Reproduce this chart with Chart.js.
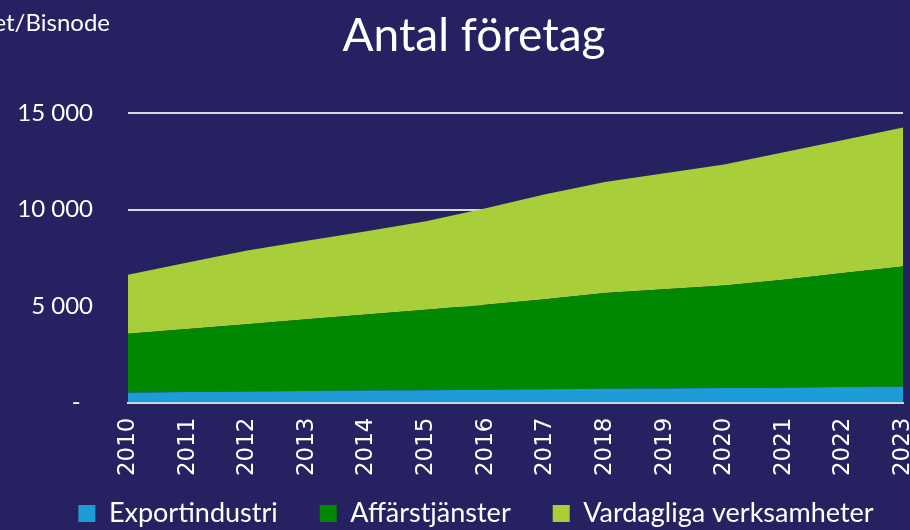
<!DOCTYPE html>
<html lang="sv">
<head>
<meta charset="utf-8">
<title>Antal företag</title>
<script src="https://cdn.jsdelivr.net/npm/chart.js@4.4.1/dist/chart.umd.min.js"></script>
<style>
    html, body {
        margin: 0;
        padding: 0;
        background: #262262;
        overflow: hidden;
    }
    #ram {
        position: relative;
        width: 910px;
        height: 530px;
    }
    #kalla {
        position: absolute;
        left: -290px;
        top: 10px;
        width: 400px;
        text-align: right;
        font-family: Lato, sans-serif;
        font-size: 24px;
        line-height: 24px;
        color: #ffffff;
        white-space: nowrap;
    }
    #rubrik {
        position: absolute;
        left: 274px;
        top: 11px;
        width: 400px;
        text-align: center;
        font-family: Lato, sans-serif;
        font-size: 46px;
        line-height: 46px;
        color: #ffffff;
        white-space: nowrap;
    }
</style>
</head>
<body>
<div id="ram">
    <canvas id="graf"></canvas>
    <div id="kalla">Källa: Bolagsverket/Bisnode</div>
    <div id="rubrik">Antal företag</div>
</div>
<script>
    var ar = ['2010', '2011', '2012', '2013', '2014', '2015', '2016', '2017', '2018', '2019', '2020', '2021', '2022', '2023'];

    var exportindustri = [510, 540, 570, 600, 620, 640, 660, 690, 710, 730, 750, 770, 800, 820];
    var affarstjanster = [3050, 3270, 3485, 3710, 3940, 4170, 4400, 4660, 4960, 5140, 5315, 5590, 5910, 6230];
    var vardagliga = [3060, 3450, 3825, 4075, 4310, 4580, 5010, 5440, 5760, 6010, 6265, 6610, 6890, 7200];

    var yTicks = [0, 5000, 10000, 15000];

    var farger = {
        text: '#ffffff',
        rutnat: '#d9d9d9',
        export: '#1e9cd8',
        affar: '#008800',
        vardag: '#a8ce3a'
    };

    function formateraTal(v) {
        if (v === 0) {
            return '-  ';
        }
        return String(v).replace(/\B(?=(\d{3})+(?!\d))/g, ' ');
    }

    function serie(namn, data, farg, fyll) {
        return {
            label: namn,
            data: data,
            backgroundColor: farg,
            borderColor: farg,
            borderWidth: 0,
            pointRadius: 0,
            pointHoverRadius: 0,
            tension: 0,
            fill: fyll
        };
    }

    // legenden har stort avstånd mellan posterna men ska ligga tätt under årtalen
    var flyttaLegend = {
        id: 'flyttaLegend',
        afterLayout: function (chart) {
            var l = chart.legend;
            l.left += 16;
            l.right += 16;
            l.top -= 24.5;
        }
    };

    var ctx = document.getElementById('graf').getContext('2d');

    new Chart(ctx, {
        type: 'line',
        data: {
            labels: ar,
            datasets: [
                serie('Exportindustri', exportindustri, farger.export, 'origin'),
                serie('Affärstjänster', affarstjanster, farger.affar, '-1'),
                serie('Vardagliga verksamheter', vardagliga, farger.vardag, '-1')
            ]
        },
        plugins: [flyttaLegend],
        options: {
            responsive: true,
            maintainAspectRatio: false,
            animation: false,
            layout: {
                autoPadding: false,
                padding: { top: 113, left: 17, right: 7, bottom: 0 }
            },
            plugins: {
                title: { display: false },
                tooltip: { enabled: false },
                legend: {
                    display: true,
                    position: 'bottom',
                    maxHeight: 47.5,
                    labels: {
                        color: farger.text,
                        boxWidth: 17,
                        boxHeight: 17,
                        padding: 42,
                        font: { family: 'Lato', size: 27 }
                    }
                }
            },
            scales: {
                x: {
                    grid: { display: false, drawTicks: false },
                    border: { display: true, color: farger.rutnat, width: 2 },
                    ticks: {
                        color: farger.text,
                        autoSkip: false,
                        maxRotation: 90,
                        minRotation: 90,
                        padding: 15,
                        font: { family: 'DejaVu Sans', size: 23 }
                    },
                    afterFit: function (axel) {
                        // sista årtalet får klippas vid kanten som i originalet
                        axel.height = 80;
                        axel.paddingLeft = 0;
                        axel.paddingRight = 0;
                    }
                },
                y: {
                    stacked: true,
                    min: 0,
                    max: 15000,
                    afterBuildTicks: function (axel) {
                        axel.ticks = yTicks.map(function (v) { return { value: v }; });
                    },
                    afterFit: function (axel) {
                        axel.width = 111;
                    },
                    grid: {
                        color: farger.rutnat,
                        lineWidth: 2,
                        drawTicks: false
                    },
                    border: { display: false },
                    ticks: {
                        color: farger.text,
                        padding: 35,
                        font: { family: 'Lato', size: 24 },
                        callback: function (v) {
                            return formateraTal(v);
                        }
                    }
                }
            }
        }
    });
</script>
</body>
</html>
